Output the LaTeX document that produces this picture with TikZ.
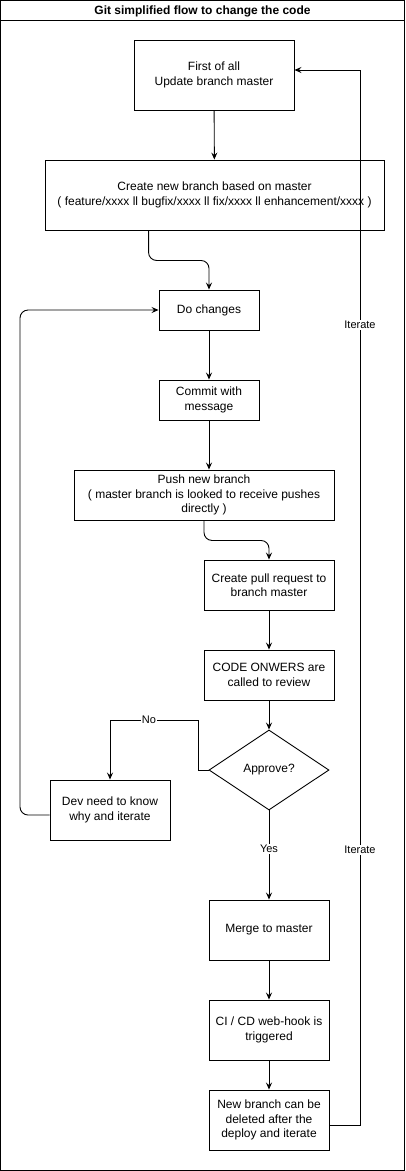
\documentclass[tikz,border=0pt]{standalone}
\usepackage{fontspec}
\setmainfont{Liberation Sans}
\usetikzlibrary{arrows.meta,shapes.geometric}
\begin{document}
\begin{tikzpicture}[x=1pt, y=-1pt, line width=0.9pt,
  blk/.style={draw, rectangle, align=center, inner sep=2pt, font=\fontsize{12}{14.5}\selectfont},
  dec/.style={draw, diamond, inner sep=0pt, minimum width=120pt, minimum height=80pt, font=\fontsize{12}{14.5}\selectfont},
  arr/.style={-{Stealth[length=7pt, width=6pt, inset=2.5pt]}},
  lbl/.style={fill=white, inner sep=1pt, font=\fontsize{11}{13}\selectfont}]
\useasboundingbox (0,0) rectangle (405,1171);
\draw (0.5,0.5) rectangle (404.5,1170.5);
\draw (0.5,20.5) -- (404.5,20.5);
\node[font=\bfseries\fontsize{12}{14}\selectfont] (title) at (202.5,11) {Git simplified flow to change the code};
\node[blk, minimum width=160pt, minimum height=70pt] (upd) at (214,75) {First of all\\Update branch master};
\node[blk, minimum width=339pt, minimum height=70pt] (newbr) at (214.5,195) {Create new branch based on master\\( feature/xxxx ll bugfix/xxxx ll fix/xxxx ll enhancement/xxxx )};
\node[blk, minimum width=100pt, minimum height=40pt] (doch) at (209,310) {Do changes};
\node[blk, minimum width=100pt, minimum height=40pt] (commit) at (209,400) {Commit with\\message};
\node[blk, minimum width=260pt, minimum height=50pt] (push) at (204,495) {Push new branch\\( master branch is looked to receive pushes\\directly )};
\node[blk, minimum width=130pt, minimum height=50pt] (pull) at (269,585) {Create pull request to\\branch master};
\node[blk, minimum width=130pt, minimum height=50pt] (owners) at (269,675) {CODE ONWERS are\\called to review};
\node[dec] (appr) at (269,770) {Approve?};
\node[blk, minimum width=120pt, minimum height=60pt] (dev) at (110,810) {Dev need to know\\why and iterate};
\node[blk, minimum width=120pt, minimum height=60pt] (merge) at (269,930) {Merge to master};
\node[blk, minimum width=120pt, minimum height=60pt] (cicd) at (269,1030) {CI / CD web-hook is\\triggered};
\node[blk, minimum width=120pt, minimum height=60pt] (del) at (269,1120) {New branch can be\\deleted after the\\deploy and iterate};
\coordinate (nobend) at (110,720);
\coordinate (back) at (20,310);
\draw[arr] (upd) -- (newbr);
\draw[arr, rounded corners=8pt] ([xshift=104pt]newbr.south west) -- ++(0,30) -| (doch.north);
\draw[arr] (doch) -- (commit);
\draw[arr] (commit.south) -- (commit.south |- push.north);
\draw[arr, rounded corners=8pt] (push.south) -- ++(0,20) -| (pull.north);
\draw[arr] (pull) -- (owners);
\draw[arr] (owners) -- (appr);
\draw[arr] (appr.west) -- ++(-10,0) |- (nobend) node[lbl, pos=0.78] {No} -- (dev.north);
\draw[arr, rounded corners=8pt] ([yshift=-5pt]dev.west) -| (back) -- (doch.west);
\draw[arr] (appr.south) -- node[lbl, pos=0.43] {Yes} (merge.north);
\draw[arr] (merge) -- (cicd);
\draw[arr] (cicd) -- (del);
\draw[arr] ([yshift=-5pt]del.east) -- ++(31,0) |- ([yshift=5pt]upd.east);
\node[lbl] (it1) at (360,325) {Iterate};
\node[lbl] (it2) at (360,850) {Iterate};
\end{tikzpicture}
\end{document}
